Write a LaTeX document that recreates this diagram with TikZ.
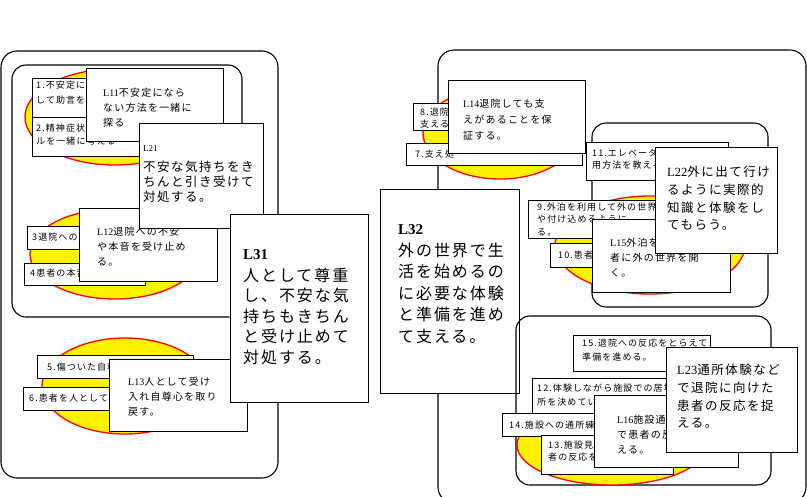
\documentclass[tikz,border=0pt]{standalone}
\usepackage{fontspec}
\setmainfont{Liberation Serif}
\newfontfamily\jp[LetterSpace=12]{Noto Sans CJK JP}
\tikzset{
  frame/.style={draw, line width=1.1pt, rounded corners=16pt},
  blob/.style={draw=red, fill=yellow, line width=1.3pt},
  card/.style={draw, fill=white, line width=0.8pt},
  % text nodes sit on the baseline of their last line
  smalltext/.style={anchor=base west, inner sep=0pt, align=left, font=\jp\fontsize{9}{13}\selectfont},
  midtext/.style={anchor=base west, inner sep=0pt, align=left, font=\jp\fontsize{10}{15}\selectfont},
  bigtext/.style={anchor=base west, inner sep=0pt, align=left, font=\jp\fontsize{12.5}{17.7}\selectfont},
  hugetext/.style={anchor=base west, inner sep=0pt, align=left, font=\jp\fontsize{16}{20.5}\selectfont},
  head/.style={anchor=base west, inner sep=0pt, font=\rmfamily\bfseries\fontsize{15}{15}\selectfont},
}
\begin{document}
\begin{tikzpicture}[x=1pt, y=-1pt]
    \useasboundingbox (0,0) rectangle (807,496);
    % left group
    \draw[frame] (1,51) rectangle (278,478);
    \draw[frame, rounded corners=14pt] (12,65) rectangle (242,317);
    \draw[blob] (115,117) ellipse [x radius=90, y radius=48];
    \draw[card] (32,78) rectangle (200,117);
    \node[smalltext, font=\jp\fontsize{9}{15}\selectfont] (t1) at (36,103.5) {1.不安定に\\して助言を};
    \draw[card] (32,117) rectangle (200,156);
    \node[smalltext] (t2) at (36,144.5) {2.精神症状\\ルを一緒に考える};
    \draw[card] (86,68) rectangle (223,141);
    \node[midtext] (l11) at (103,126.8) {{\rmfamily L11}不安定になら\\ない方法を一緒に\\探る};
    \draw[blob] (115,254) ellipse [x radius=85, y radius=45];
    \draw[card] (27,226) rectangle (180,249);
    \node[smalltext] (t3) at (32,240.4) {3退院への};
    \draw[card] (24,263) rectangle (145,285);
    \node[smalltext] (t4) at (30,276.4) {4患者の本音};
    \draw[card] (79,208) rectangle (217,281);
    \node[midtext] (l12) at (97,265.8) {{\rmfamily L12}退院への不安\\や本音を受け止め\\る。};
    \draw[card] (139,123) rectangle (263,228);
    \node[anchor=base west, inner sep=0pt, font=\rmfamily\fontsize{9}{9}\selectfont] (l21h) at (143,151) {L21};
    \node[bigtext, font=\jp\fontsize{12.5}{15}\selectfont] (l21) at (143,201.75) {不安な気持ちをき\\ちんと引き受けて\\対処する。};
    \draw[blob] (125,386) ellipse [x radius=83, y radius=48];
    \draw[card] (37,355) rectangle (193,378);
    \node[smalltext] (t5) at (47,370.4) {5.傷ついた自尊};
    \draw[card] (23,387) rectangle (200,410);
    \node[smalltext] (t6) at (29,401) {6.患者を人として受};
    \draw[card] (109,359) rectangle (247,431);
    \node[midtext] (l13) at (128,415.8) {{\rmfamily L13}人として受け\\入れ自尊心を取り\\戻す。};
    \draw[card] (230,214) rectangle (368,402);
    \node[head] (l31h) at (243,259) {L31};
    \node[hugetext] (l31) at (243,363) {人として尊重\\し、不安な気\\持ちもきちん\\と受け止めて\\対処する。};
    % right group
    \draw[frame] (438,50) rectangle (806,503);
    \draw[blob] (500,133) ellipse [x radius=77, y radius=46];
    \draw[card] (413,103) rectangle (500,130);
    \node[smalltext, font=\jp\fontsize{9}{12}\selectfont] (t8) at (420,127.4) {8.退院\\支える};
    \draw[card] (406,143) rectangle (582,165);
    \node[smalltext] (t7) at (415,157) {7.支え処};
    \draw[card] (448,80) rectangle (585,153);
    \node[midtext, font=\jp\fontsize{10}{16}\selectfont] (l14) at (463,139.8) {{\rmfamily L14}退院しても支\\えがあることを保\\証する。};
    \draw[card] (380,189) rectangle (519,393);
    \node[head] (l32h) at (398,234) {L32};
    \node[hugetext, font=\jp\fontsize{16}{21.5}\selectfont] (l32) at (398,342) {外の世界で生\\活を始めるの\\に必要な体験\\と準備を進め\\て支える。};
    \draw[frame, rounded corners=14pt] (592,123) rectangle (768,307);
    \draw[blob] (650,245) ellipse [x radius=95, y radius=49];
    \draw[card] (586,142) rectangle (728,180);
    \node[smalltext, font=\jp\fontsize{9}{12}\selectfont] (t11) at (592,168.4) {11.エレベーター\\用方法を教える};
    \draw[card] (528,200) rectangle (700,238);
    \node[smalltext, font=\jp\fontsize{9}{12.5}\selectfont] (t9) at (537,235.4) {9.外泊を利用して外の世界\\や付け込めるように\\る。};
    \draw[card] (550,243) rectangle (640,267);
    \node[smalltext] (t10) at (558,258.4) {10.患者の};
    \draw[card] (592,219) rectangle (730,292);
    \node[midtext] (l15) at (610,276.8) {{\rmfamily L15}外泊を通して患\\者に外の世界を開\\く。};
    \draw[card] (655,147) rectangle (777,253);
    \node[bigtext] (l22) at (667,229.85) {{\rmfamily L22}外に出て行け\\るように実際的\\知識と体験をし\\てもらう。};
    \draw[frame, rounded corners=14pt] (516,316) rectangle (771,485);
    \draw[blob] (612,445) ellipse [x radius=95, y radius=40];
    \draw[card] (573,335) rectangle (710,371);
    \node[smalltext, font=\jp\fontsize{9}{14}\selectfont] (t15) at (582,360.4) {15.退院への反応をとらえて\\準備を進める。};
    \draw[card] (532,378) rectangle (690,414);
    \node[smalltext, font=\jp\fontsize{9}{14}\selectfont] (t12) at (537,405.4) {12.体験しながら施設での居場\\所を決めてい};
    \draw[card] (502,413) rectangle (650,436);
    \node[smalltext] (t14) at (509,428.4) {14.施設への通所練習};
    \draw[card] (541,435) rectangle (673,474);
    \node[smalltext, font=\jp\fontsize{9}{12}\selectfont] (t13) at (548,460.4) {13.施設見\\者の反応を};
    \draw[card] (594,395) rectangle (738,467);
    \node[midtext] (l16) at (617,453.8) {{\rmfamily L16}施設通\\で患者の反\\える。};
    \draw[card] (666,347) rectangle (797,452);
    \node[bigtext] (l23) at (677,427.85) {{\rmfamily L23}通所体験など\\で退院に向けた\\患者の反応を捉\\える。};
\end{tikzpicture}
\end{document}
